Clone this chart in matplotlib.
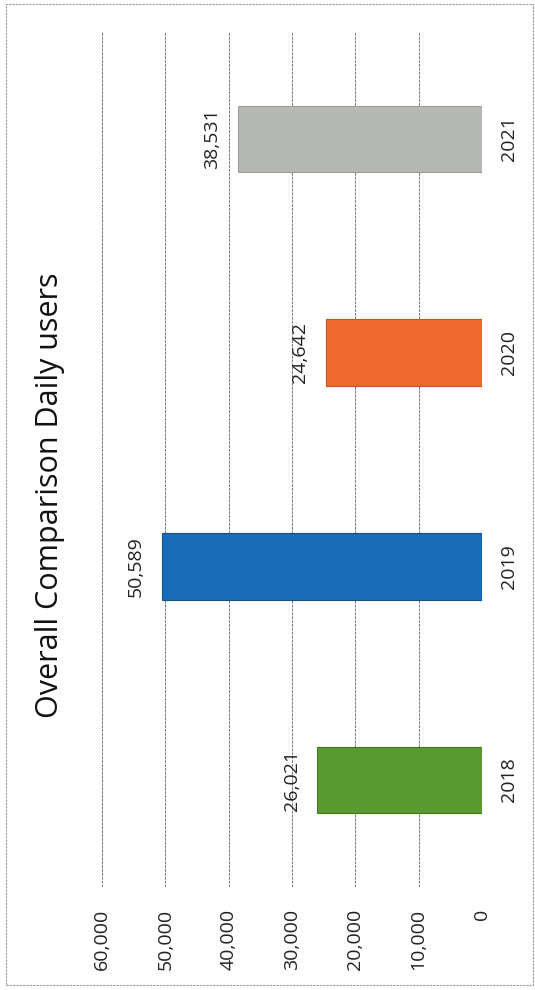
import matplotlib
matplotlib.use('Agg')
import matplotlib.pyplot as plt
from matplotlib.patches import Rectangle

years = ['2018', '2019', '2020', '2021']
users = [26021, 50589, 24642, 38531]
colors = ['#5a9a30', '#1a6cb8', '#f06a30', '#b6b9b3']
edges = ['#3f7a1f', '#15508c', '#c8501f', '#9a9d98']
ticks = [0, 10000, 20000, 30000, 40000, 50000, 60000]

plt.rcParams['font.family'] = ['Open Sans', 'DejaVu Sans']

fig = plt.figure(figsize=(5.35, 9.9), dpi=100)
ax = fig.add_axes([102 / 535, (990 - 887) / 990, 380 / 535, 855 / 990])

pos = list(range(len(years)))
ax.barh(pos, users, height=0.31, color=colors, edgecolor=edges, linewidth=0.8, zorder=3)

ax.set_xlim(60000, 0)
ax.set_ylim(-0.5, 3.5)
ax.set_xticks(ticks)
ax.set_xticklabels([f'{t:,}' for t in ticks], rotation=90, fontsize=14, color='#222222')
ax.set_yticks(pos)
ax.set_yticklabels(years, rotation=90, fontsize=14, color='#222222', va='center')
ax.yaxis.tick_right()
ax.tick_params(axis='x', length=0, pad=16)
ax.tick_params(axis='y', length=0, pad=13)
ax.grid(axis='x', color='#777777', linewidth=0.7, linestyle=(0, (3, 1)), zorder=0)
for s in ax.spines.values():
    s.set_visible(False)

for p, v in zip(pos, users):
    ax.annotate(f'{v:,}', xy=(v, p), xytext=(-12, 0), textcoords='offset points',
                rotation=90, ha='right', va='center', fontsize=14, color='#222222')

fig.text(50 / 535, 0.5, 'Overall Comparison Daily users', rotation=90,
         ha='center', va='center', fontsize=22, color='#111111')

fig.patches.append(Rectangle((6 / 535, 5 / 990), 527 / 535, 981 / 990, transform=fig.transFigure,
                             fill=False, edgecolor='#999999', linewidth=0.8, linestyle=(0, (2, 1))))

fig.savefig('out.png', dpi=100)
